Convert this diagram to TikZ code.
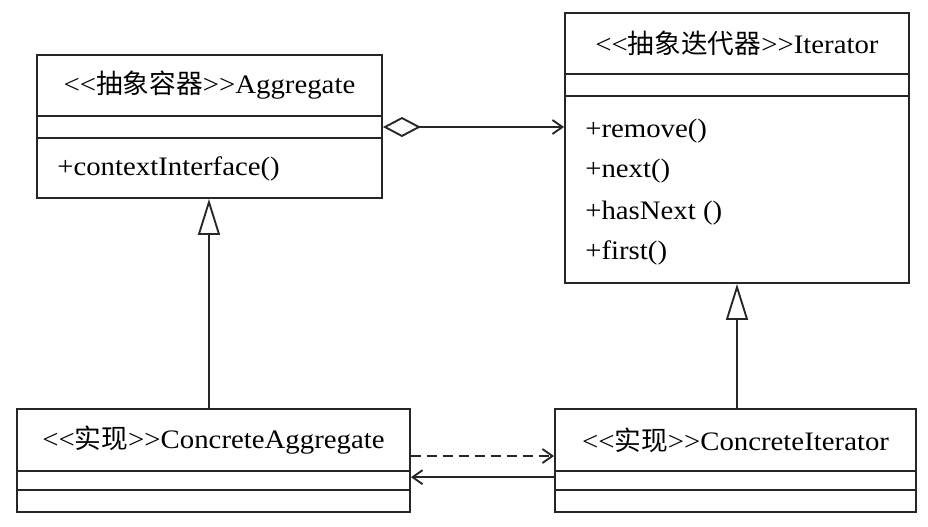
\documentclass[tikz,border=0pt]{standalone}
\usepackage{fontspec}
\setmainfont{Liberation Serif}[FakeStretch=1.08]
\newfontfamily\cjk{Noto Sans CJK SC}
\usetikzlibrary{arrows.meta,fit}
\definecolor{linec}{HTML}{262626}
\begin{document}
\begin{tikzpicture}[x=0.75pt,y=-0.75pt,
  part/.style={draw=linec, line width=1.4pt, inner sep=0pt},
  txt/.style={font=\fontsize{20pt}{24pt}\selectfont, inner sep=0pt, text=black},
  conn/.style={draw=linec, line width=1.4pt},
  aggr/.style={{Diamond[open,length=28.5pt,width=15pt]}-{Straight Barb[length=7.5pt,width=10.5pt]}},
  inherit/.style={-{Triangle[open,length=27pt,width=16.5pt]}},
  dep/.style={-{Straight Barb[length=7.5pt,width=10.5pt]}}]
\useasboundingbox (0,0) rectangle (928,526);

% Aggregate
\node[part, fit={(37,55) (382,116)}] (agg) {};
\node[part, fit={(37,116) (382,138)}] (agg-a) {};
\node[part, fit={(37,138) (382,198)}] (agg-m) {};
\node[txt] (agg-t) at (agg.center) {<{}<{\cjk 抽象容器}>{}>Aggregate};
\node[txt, anchor=west] (agg-m1) at (57,169) {+contextInterface()};

% Iterator
\node[part, fit={(565,13) (909,74)}] (itr) {};
\node[part, fit={(565,74) (909,96)}] (itr-a) {};
\node[part, fit={(565,96) (909,283)}] (itr-m) {};
\node[txt] (itr-t) at (itr.center) {<{}<{\cjk 抽象迭代器}>{}>Iterator};
\node[txt, anchor=west] (itr-m1) at (585,131) {+remove()};
\node[txt, anchor=west] (itr-m2) at (585,171) {+next()};
\node[txt, anchor=west] (itr-m3) at (585,213) {+hasNext ()};
\node[txt, anchor=west] (itr-m4) at (585,253) {+first()};

% ConcreteAggregate
\node[part, fit={(17,409) (410,471)}] (cagg) {};
\node[part, fit={(17,471) (410,490)}] (cagg-a) {};
\node[part, fit={(17,490) (410,512)}] (cagg-m) {};
\node[txt] (cagg-t) at (cagg.center) {<{}<{\cjk 实现}>{}>ConcreteAggregate};

% ConcreteIterator
\node[part, fit={(555,409) (916,471)}] (citr) {};
\node[part, fit={(555,471) (916,490)}] (citr-a) {};
\node[part, fit={(555,490) (916,512)}] (citr-m) {};
\node[txt] (citr-t) at (citr.center) {<{}<{\cjk 实现}>{}>ConcreteIterator};

% aggregation
\draw[conn, aggr] (agg-a.east) -- (agg-a.east -| itr-m.west);

% generalisations
\draw[conn, inherit] ([xshift=-0.4pt]agg-m.south |- cagg.north) -- ([xshift=-0.4pt]agg-m.south);
\draw[conn, inherit] (itr-m.south |- citr.north) -- (itr-m.south);

% dependencies between the concrete classes
\coordinate (d1) at ([yshift=-12pt]cagg.east);
\coordinate (d2) at (d1 -| citr.west);
\draw[conn, dep, dash pattern=on 7.5pt off 4.5pt] (d1) -- (d2);
\coordinate (s1) at ([yshift=2.5pt]cagg-a.east);
\coordinate (s2) at (s1 -| citr-a.west);
\draw[conn, dep] (s2) -- (s1);
\end{tikzpicture}
\end{document}
